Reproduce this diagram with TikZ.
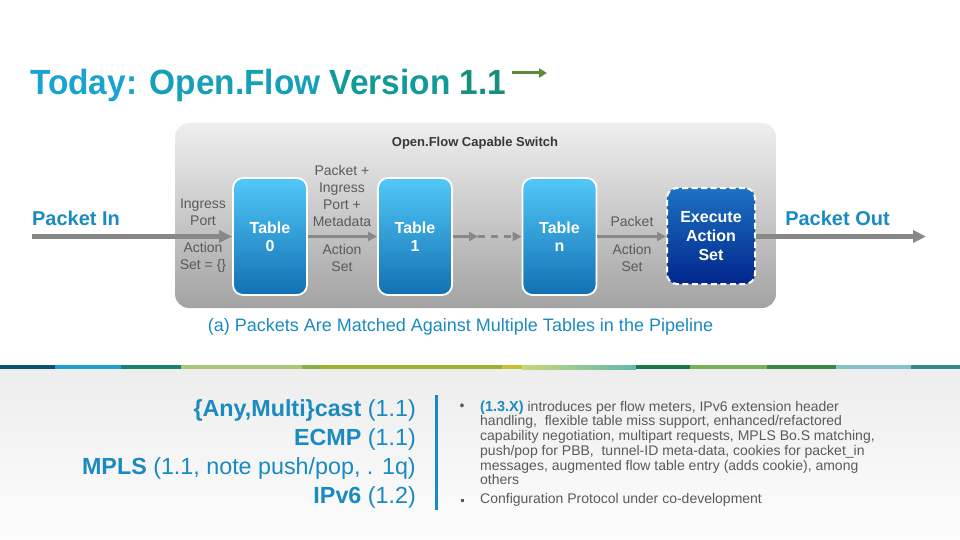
\documentclass[tikz,border=0pt]{standalone}
\usepackage{fontspec}
\setmainfont{Liberation Sans}
\usetikzlibrary{arrows.meta}
\definecolor{ciscoblue}{HTML}{1A8AC0}
\definecolor{arrowgray}{HTML}{888888}
\definecolor{labelgray}{HTML}{5A5A5A}
\definecolor{tbltop}{HTML}{52C8F8}
\definecolor{tblbot}{HTML}{1270B2}
\definecolor{exetop}{HTML}{1C72C2}
\definecolor{exebot}{HTML}{02268C}
\definecolor{swtop}{HTML}{EFEFEF}
\definecolor{swbot}{HTML}{A3A3A3}
\definecolor{tA}{HTML}{1AA2D2}
\definecolor{tB}{HTML}{16A0B8}
\definecolor{tC}{HTML}{129A98}
\definecolor{tD}{HTML}{14907C}
\definecolor{titlearrow}{HTML}{5B8C3A}
\definecolor{bar1}{HTML}{0A5070}
\definecolor{bar2}{HTML}{20A0D0}
\definecolor{bar3}{HTML}{1A8070}
\definecolor{bar4}{HTML}{A8C878}
\definecolor{bar5}{HTML}{88B040}
\definecolor{bar6}{HTML}{A0B030}
\definecolor{bar7}{HTML}{C8C030}
\definecolor{bar8a}{HTML}{C8D878}
\definecolor{bar8b}{HTML}{60B8B0}
\definecolor{bar9}{HTML}{1A7848}
\definecolor{bar10}{HTML}{78B058}
\definecolor{bar11}{HTML}{3A8848}
\definecolor{bar12}{HTML}{88C0C8}
\definecolor{bar13}{HTML}{3A8888}
\tikzset{
  tbl/.style={draw=white, line width=1.8pt, rounded corners=10pt, top color=tbltop, bottom color=tblbot,
    minimum width=74pt, minimum height=117pt, text=white, font=\fontsize{16}{18}\selectfont\bfseries,
    align=center, inner sep=0pt},
  exe/.style={draw=white, line width=2pt, dash pattern=on 6pt off 3.5pt, rounded corners=10pt,
    top color=exetop, bottom color=exebot, minimum width=88pt, minimum height=96pt, text=white,
    font=\fontsize{16}{19}\selectfont\bfseries, align=center, inner sep=0pt},
  lbl/.style={text=labelgray, font=\fontsize{14}{17}\selectfont, align=center, inner sep=0pt},
  pkt/.style={text=ciscoblue, font=\fontsize{20}{24}\selectfont\bfseries, inner sep=0pt},
  flow/.style={draw=arrowgray, line width=3pt, -{Triangle[length=9pt,width=9pt]}},
  bigflow/.style={draw=arrowgray, line width=4.5pt, -{Triangle[length=13pt,width=12pt]}},
}
\begin{document}
\begin{tikzpicture}[x=1pt,y=-1pt]
\useasboundingbox (0,0) rectangle (960,540);
% lower background
\shade[top color=black!7, bottom color=black!1] (0,369) rectangle (960,540);
% colour bar
\fill[bar1] (0,365) rectangle (55,369);
\fill[bar2] (55,365) rectangle (121,369);
\fill[bar3] (121,365) rectangle (181,369);
\fill[bar4] (181,365) rectangle (302,369);
\fill[bar5] (302,365) rectangle (321,369);
\fill[bar6] (321,365) rectangle (502,369);
\fill[bar7] (502,365) rectangle (522,369);
\shade[left color=bar8a, right color=bar8b] (522,365) rectangle (636,369);
\fill[bar9] (636,365) rectangle (690,369);
\fill[bar10] (690,365) rectangle (767,369);
\fill[bar11] (767,365) rectangle (836,369);
\fill[bar12] (836,365) rectangle (911,369);
\fill[bar13] (911,365) rectangle (960,369);

% title
\node[anchor=base west, inner sep=0pt, font=\fontsize{35}{40}\selectfont\bfseries] (title) at (30,94.5)
  {\scalebox{0.955}[1]{\textcolor{tA}{Today: }\textcolor{tB}{Open.Flow }\textcolor{tC}{Version }\textcolor{tD}{1.1}}};
\coordinate (ta1) at (512,73);
\coordinate (ta2) at (547,73);
\draw[titlearrow, line width=3pt, -{Triangle[length=8pt,width=9pt]}] (ta1) -- (ta2);

% switch box
\node[rounded corners=14pt, top color=swtop, bottom color=swbot, minimum width=601pt, minimum height=185pt,
  inner sep=0pt] (switch) at (475.5,215.5) {};
\node[text=black!78, font=\fontsize{13}{15}\selectfont\bfseries, inner sep=0pt] (swtitle) at (475,143) {Open.Flow Capable Switch};

% tables
\node[tbl] (t0) at (270,236.5) {Table\\0};
\node[tbl] (t1) at (415,236.5) {Table\\1};
\node[tbl] (tn) at (559.5,236.5) {Table\\n};
\node[exe] (exe) at (711,236) {Execute\\Action\\Set};

% labels
\node[pkt] (pin) at (76,218) {Packet In};
\node[pkt] (pout) at (837.5,218) {Packet Out};
\node[lbl] (l1) at (203,212.5) {Ingress\\Port};
\node[lbl] (l2) at (203,257.5) {Action\\Set = \{\}};
\node[lbl] (l3) at (342,196) {Packet +\\Ingress\\Port +\\Metadata};
\node[lbl] (l4) at (342,257.5) {Action\\Set};
\node[lbl] (l5) at (632,221) {Packet};
\node[lbl] (l6) at (632,257.5) {Action\\Set};

% connectors
\coordinate (inStart) at (32,236.5);
\coordinate (mid) at (478,236.5);
\coordinate (outEnd) at (926,236.5);
\draw[bigflow] (inStart) -- (t0.west);
\draw[flow] (t0.east) -- (t1.west);
\draw[flow] (t1.east) -- (mid);
\draw[flow, dash pattern=on 7pt off 6pt] (mid) -- (tn.west);
\draw[flow, line width=2.5pt] (tn.east) -- (exe.west |- tn.east);
\draw[bigflow] (exe.east |- outEnd) -- (outEnd);

% caption
\node[text=ciscoblue, font=\fontsize{18}{21}\selectfont, inner sep=0pt] (caption) at (460.5,327)
  {(a) Packets Are Matched Against Multiple Tables in the Pipeline};

% left block
\node[anchor=east, align=right, text=ciscoblue, font=\fontsize{23.3}{29}\selectfont, inner sep=0pt] (feat) at (416,453.5)
  {\textbf{\{Any,Multi\}cast} (1.1)\\\textbf{ECMP} (1.1)\\\textbf{MPLS} (1.1, note push/pop, . 1q)\\\textbf{IPv6} (1.2)};
\fill[ciscoblue] (434.5,395) rectangle (437.5,510);

% right bullets
\node[text=labelgray, font=\fontsize{14}{16}\selectfont, inner sep=0pt] (b1) at (462,407) {\textbullet};
\node[anchor=north west, align=left, text=labelgray, font=\fontsize{14}{14.7}\selectfont, inner sep=0pt] (bt1) at (480,400.5)
  {\textcolor{ciscoblue}{\bfseries\fontsize{14.5}{14.7}\selectfont(1.3.X)} introduces per flow meters, IPv6 extension header\\
   handling,\ \ flexible table miss support, enhanced/refactored\\
   capability negotiation, multipart requests, MPLS Bo.S matching,\\
   push/pop for PBB,\ \ tunnel-ID meta-data, cookies for packet\_in\\
   messages, augmented flow table entry (adds cookie), among\\
   others};
\fill[labelgray] (460.5,498.5) rectangle (463.5,501.5);
\node[anchor=west, text=labelgray, font=\fontsize{14}{14.7}\selectfont, inner sep=0pt] (bt2) at (480,500)
  {Configuration Protocol under co-development};
\end{tikzpicture}
\end{document}
